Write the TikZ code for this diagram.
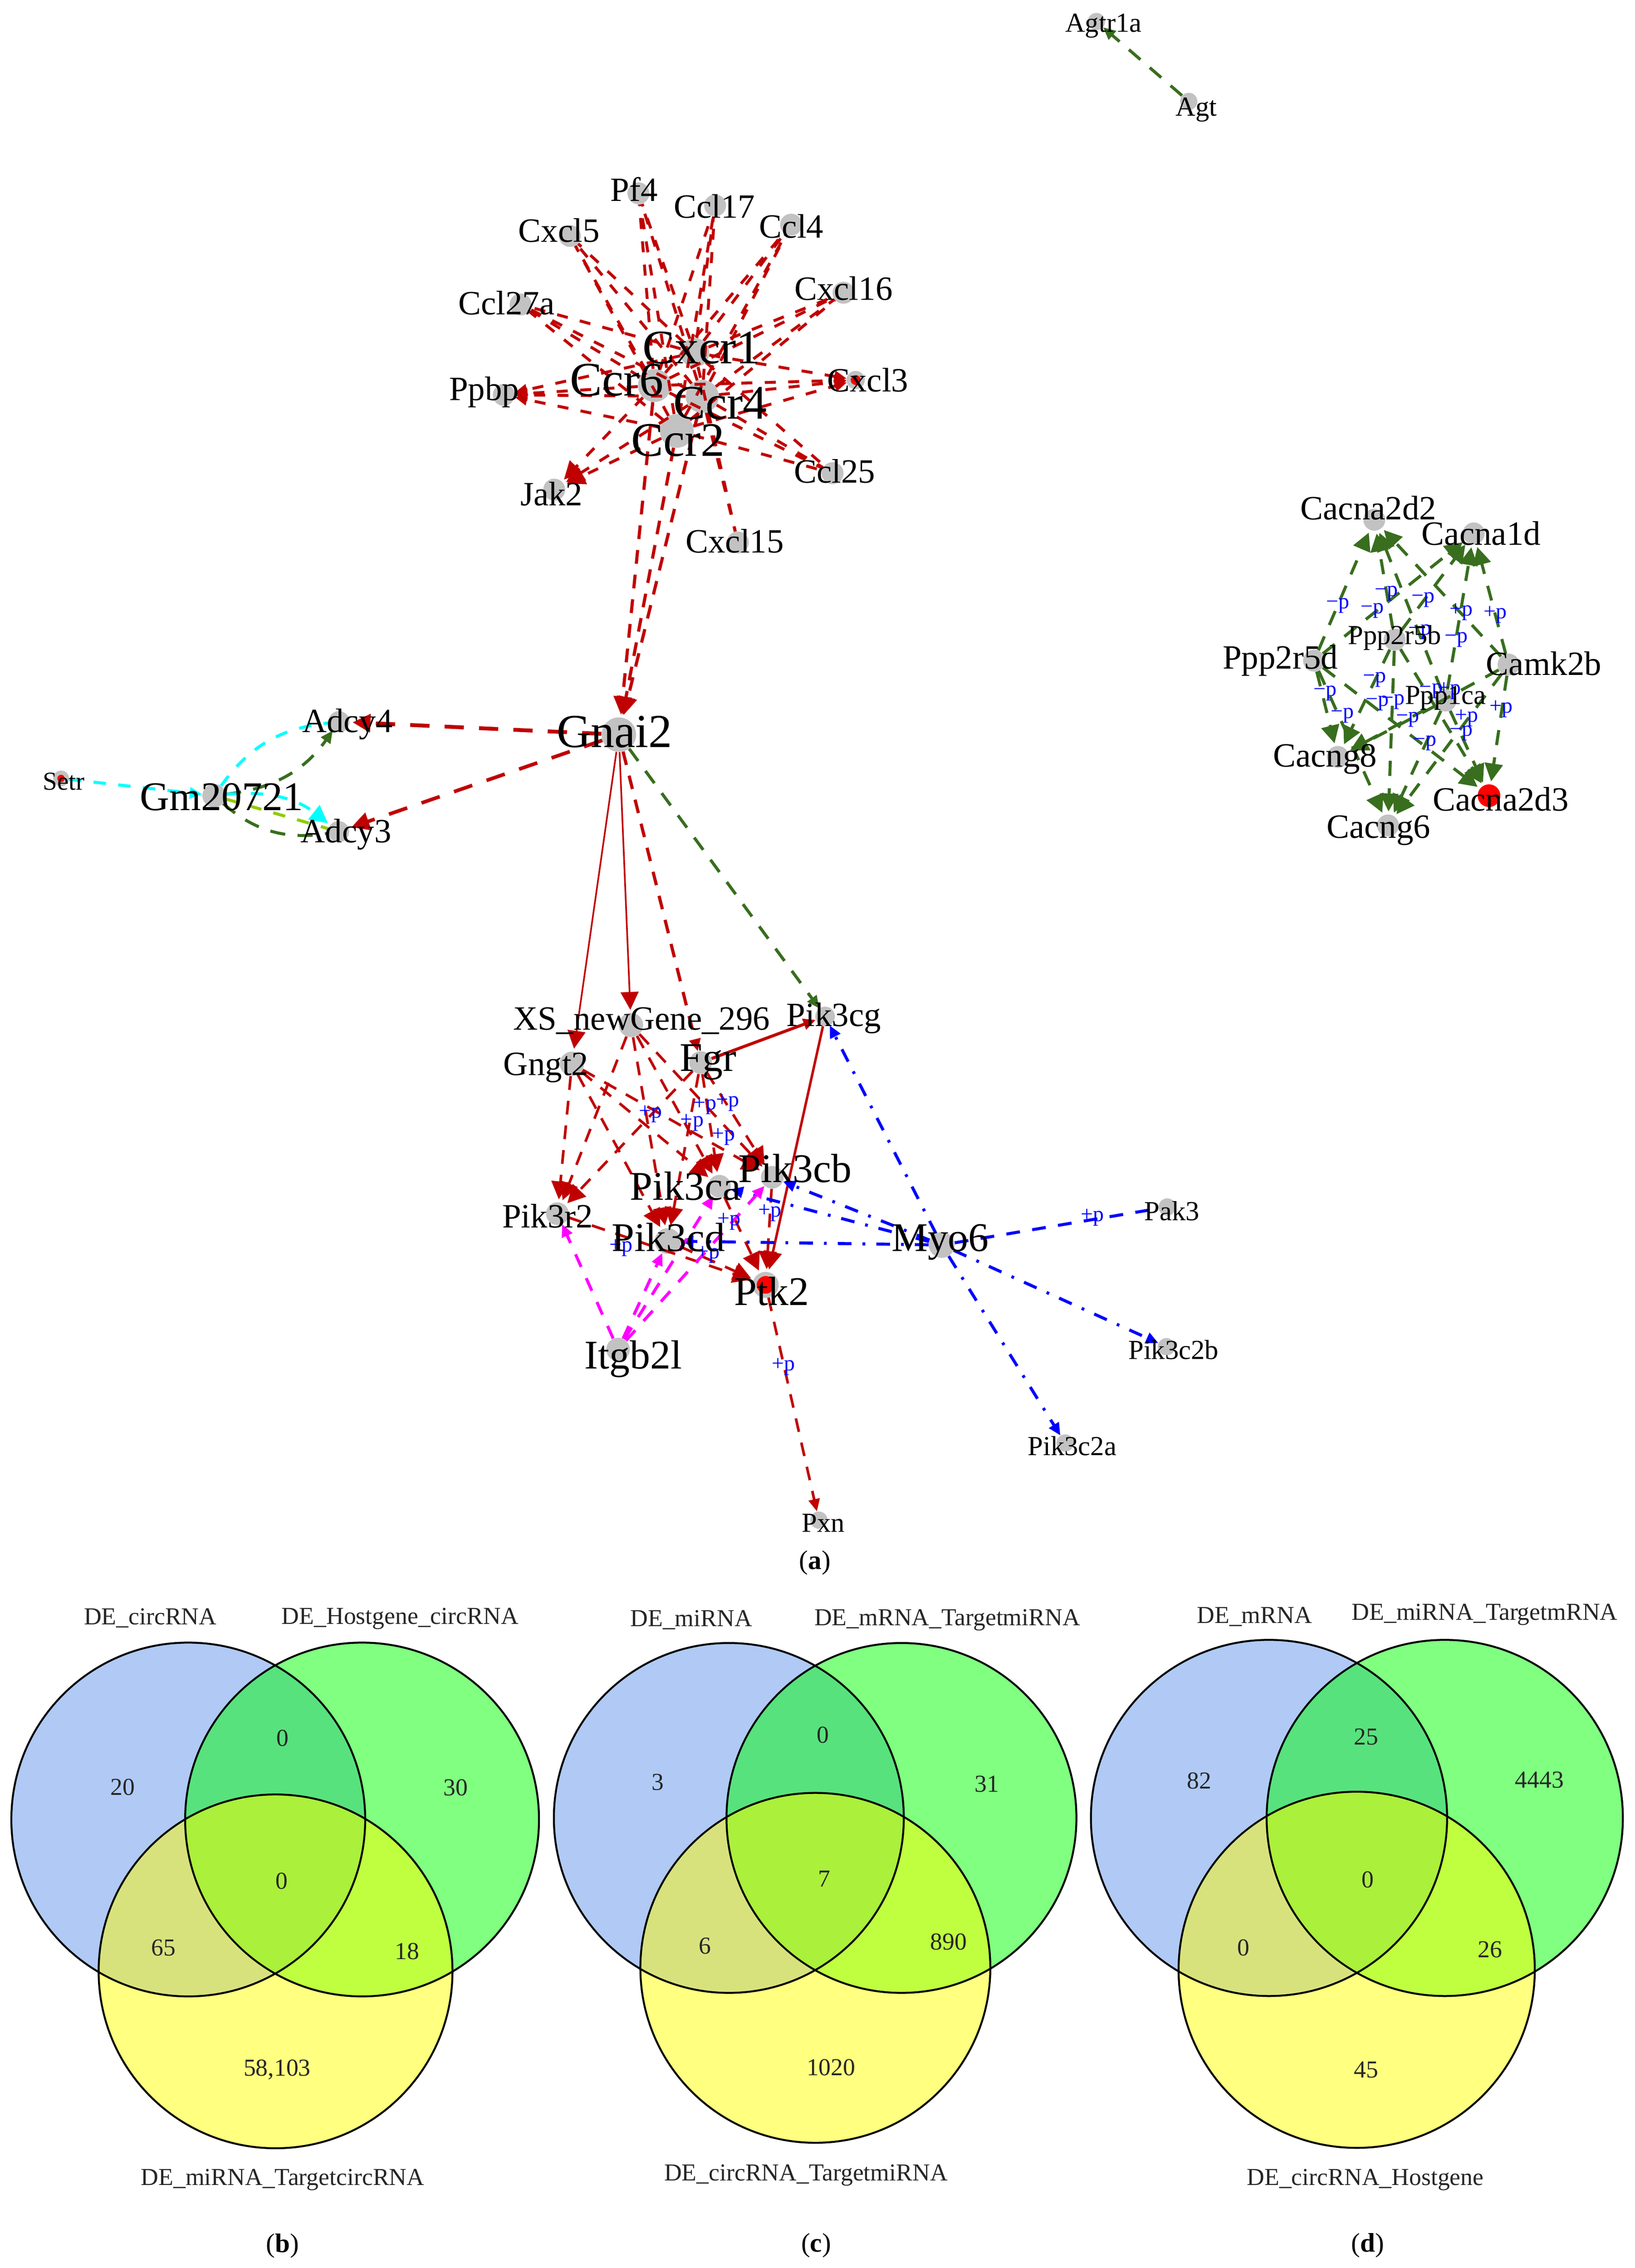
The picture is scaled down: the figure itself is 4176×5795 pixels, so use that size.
\documentclass[tikz,border=0pt]{standalone}
\usepackage{fontspec}
\setmainfont{Liberation Serif}
\usetikzlibrary{arrows.meta}

\definecolor{edgered}{HTML}{C00000}
\definecolor{edgegreen}{HTML}{386E1E}
\definecolor{edgelime}{HTML}{8FCC00}
\definecolor{edgecyan}{HTML}{00FFFF}
\definecolor{edgepink}{HTML}{FF00FF}
\definecolor{edgeblue}{HTML}{0000FF}
\definecolor{hitred}{HTML}{FF0000}
\definecolor{genegray}{HTML}{C2C2C2}
\definecolor{vblue}{HTML}{B0CAF5}
\definecolor{vgreen}{HTML}{80FF80}
\definecolor{vyellow}{HTML}{FFFF80}
\definecolor{vab}{HTML}{58E27D}
\definecolor{vac}{HTML}{D8E27D}
\definecolor{vbc}{HTML}{BFFF40}
\definecolor{vabc}{HTML}{ABF03A}

\tikzset{
  gene/.style={circle,fill=genegray,inner sep=0pt,minimum size=#1cm},
  hitgene/.style={circle,fill=hitred,draw=genegray,line width=3pt,inner sep=0pt,minimum size=#1cm},
  lab/.style={inner sep=0pt,font=\fontsize{#1}{#1}\selectfont},
  labs/.style={lab=20},
  labm/.style={lab=24.7},
  labb/.style={lab=29.6},
  labh/.style={lab=35},
  plab/.style={inner sep=0pt,text=edgeblue,font=\fontsize{15.8}{16}\selectfont},
  vtxt/.style={inner sep=0pt,text=black!85,font=\fontsize{17.7}{18}\selectfont},
  panelcap/.style={inner sep=0pt,font=\fontsize{19.5}{20}\selectfont},
  bigtip/.style={-{Triangle[length=13pt,width=13pt]},shorten >=2pt},
  smalltip/.style={-{Triangle[length=9pt,width=8pt]}},
  reddash/.style={draw=edgered,line width=2.3pt,dash pattern=on 10pt off 8pt},
  ligdash/.style={draw=edgered,line width=2.1pt,dash pattern=on 8pt off 9pt},
  redline/.style={draw=edgered,line width=1.2pt},
  greendash/.style={draw=edgegreen,line width=2.2pt,dash pattern=on 11pt off 9pt},
  bluedot/.style={draw=edgeblue,line width=2.2pt,dash pattern=on 10pt off 8pt on 2pt off 8pt},
  bluedash/.style={draw=edgeblue,line width=2.2pt,dash pattern=on 10pt off 9pt},
  pinkdash/.style={draw=edgepink,line width=2.2pt,dash pattern=on 10pt off 9pt},
  cyandash/.style={draw=edgecyan,line width=2.2pt,dash pattern=on 9pt off 9pt},
}

\begin{document}
\begin{tikzpicture}[x=0.01cm,y=-0.01cm]
\useasboundingbox (0,0) rectangle (4176,5795);

% venn circles
\foreach \ax/\bx/\ay/\cx/\cy/\r in {481/925/4649/704/5037/452,1862/2303/4645/2083/5028/447,3242/3691/4645/3466/5033/455}{
  \fill[vblue] (\ax,\ay) circle (\r);
  \fill[vgreen] (\bx,\ay) circle (\r);
  \fill[vyellow] (\cx,\cy) circle (\r);
  \begin{scope}
    \clip (\bx,\ay) circle (\r);
    \fill[vbc] (\cx,\cy) circle (\r);
  \end{scope}
  \begin{scope}
    \clip (\ax,\ay) circle (\r);
    \fill[vab] (\bx,\ay) circle (\r);
    \fill[vac] (\cx,\cy) circle (\r);
    \clip (\bx,\ay) circle (\r);
    \fill[vabc] (\cx,\cy) circle (\r);
  \end{scope}
  \draw[line width=1.4pt] (\ax,\ay) circle (\r) (\bx,\ay) circle (\r) (\cx,\cy) circle (\r);
}

% genes
\node[gene=.44] (agtr) at (2801,55) {};
\node[gene=.44] (agt) at (3037,259) {};
\node[gene=.56] (pf4) at (1631,494) {};
\node[gene=.56] (ccl17) at (1827,525) {};
\node[gene=.56] (ccl4) at (2021,574) {};
\node[gene=.56] (cxcl5) at (1456,603) {};
\node[gene=.56] (cxcl16) at (2155,748) {};
\node[gene=.56] (ccl27) at (1330,778) {};
\node[gene=.56] (ppbp) at (1287,1009) {};
\node[hitgene=.36] (cxcl3) at (2186,971) {};
\node[gene=.56] (ccl25) at (2127,1209) {};
\node[gene=.56] (jak2) at (1416,1251) {};
\node[gene=.56] (cxcl15) at (1885,1386) {};
\node[gene=.74] (cxcr1) at (1775,901) {};
\node[gene=.84] (ccr6) at (1672,985) {};
\node[gene=.84] (ccr4) at (1794,1013) {};
\node[gene=.86] (ccr2) at (1729,1101) {};
\node[gene=.88] (gnai2) at (1581,1877) {};
\node[hitgene=.3] (setr) at (156,1989) {};
\node[gene=.6] (gm) at (547,2033) {};
\node[gene=.54] (adcy4) at (866,1844) {};
\node[gene=.54] (adcy3) at (865,2125) {};
\node[gene=.62] (xsgene) at (1612,2619) {};
\node[gene=.5] (pik3cg) at (2108,2597) {};
\node[gene=.62] (gngt2) at (1461,2718) {};
\node[gene=.58] (fgr) at (1790,2715) {};
\node[gene=.58] (pik3cb) at (1973,3008) {};
\node[gene=.58] (pik3ca) at (1838,3031) {};
\node[gene=.58] (pik3r2) at (1424,3101) {};
\node[gene=.66] (pik3cd) at (1706,3171) {};
\node[gene=.66] (myo6) at (2406,3181) {};
\node[hitgene=.56] (ptk2) at (1956,3283) {};
\node[gene=.6] (itgb) at (1579,3448) {};
\node[gene=.44] (pak3) at (2982,3084) {};
\node[gene=.44] (c2b) at (2980,3441) {};
\node[gene=.44] (c2a) at (2721,3687) {};
\node[gene=.44] (pxn) at (2092,3884) {};
\node[gene=.56] (a2d2) at (3511,1328) {};
\node[gene=.56] (a1d) at (3765,1363) {};
\node[gene=.56] (r5b) at (3563,1634) {};
\node[gene=.56] (r5d) at (3357,1688) {};
\node[gene=.56] (camk) at (3854,1698) {};
\node[gene=.56] (pp1) at (3693,1790) {};
\node[gene=.56] (ng8) at (3418,1934) {};
\node[gene=.56] (ng6) at (3546,2109) {};
\node[circle,fill=hitred,inner sep=0pt,minimum size=.58cm] (a2d3) at (3804,2033) {};

% edges
\draw[greendash,smalltip] (agt) -- (agtr);
\foreach \lig in {pf4,ccl17,ccl4,cxcl5,cxcl16,ccl27,ccl25}
  \foreach \rec in {cxcr1,ccr6,ccr4,ccr2}
    \draw[ligdash] (\rec) -- (\lig);
\foreach \lig in {ppbp,cxcl3}
  \foreach \rec in {cxcr1,ccr6,ccr4,ccr2}
    \draw[ligdash,smalltip] (\rec) -- (\lig);
\foreach \rec in {ccr6,ccr4,ccr2}
  \draw[ligdash,bigtip] (\rec) -- (jak2);
\foreach \rec in {cxcr1,ccr4}
  \draw[ligdash] (\rec) -- (cxcl15);
\foreach \rec in {ccr6,ccr4,ccr2}
  \draw[reddash,bigtip] (\rec) -- (gnai2);
\draw[reddash,bigtip,line width=2.8pt,dash pattern=on 14pt off 11pt] (gnai2) -- (adcy4);
\draw[reddash,bigtip,line width=2.6pt,dash pattern=on 14pt off 11pt] (gnai2) -- (adcy3);
\draw[redline,bigtip] (gnai2) -- (gngt2);
\draw[redline,bigtip] (gnai2) -- (xsgene);
\draw[reddash,smalltip] (gnai2) -- (fgr);
\draw[greendash,smalltip] (gnai2) -- (pik3cg);
\draw[cyandash,smalltip] (setr) -- (gm);
\draw[cyandash] (gm) to[bend left=24] (adcy4);
\draw[greendash,smalltip] (gm) to[bend right=24] (adcy4);
\draw[cyandash,bigtip] (gm) to[bend left=22] (adcy3);
\draw[greendash] (gm) to[bend right=25] (adcy3);
\draw[draw=edgelime,line width=2.2pt,dash pattern=on 9pt off 9pt] (gm) -- (adcy3);
\draw[redline,line width=2.2pt,smalltip] (fgr) -- (pik3cg);
\draw[redline,line width=1.8pt,bigtip] (pik3cg) -- (ptk2);
\foreach \src in {xsgene,gngt2,fgr}
  \foreach \dst in {pik3r2,pik3ca,pik3cd,pik3cb}
    \draw[reddash,line width=1.9pt,bigtip] (\src) -- (\dst);
\foreach \src in {pik3r2,pik3ca,pik3cd,pik3cb}
  \draw[reddash,line width=1.9pt,bigtip] (\src) -- (ptk2);
\draw[reddash,line width=1.9pt,smalltip] (ptk2) -- (pxn);
\foreach \dst in {pik3cg,pik3cb,pik3ca,pik3cd,c2b,c2a}
  \draw[bluedot,smalltip] (myo6) -- (\dst);
\draw[bluedash] (myo6) -- (pak3);
\foreach \dst in {pik3r2,pik3cd,pik3ca,pik3cb}
  \draw[pinkdash,smalltip] (itgb) -- (\dst);
\foreach \src in {r5d,r5b,pp1,camk}
  \foreach \dst in {a2d2,a1d,ng8,ng6,a2d3}
    \draw[greendash,bigtip] (\src) -- (\dst);

% phospho labels
\foreach \x/\y [count=\i] in {1662/2846,1801/2826,1859/2817,1768/2868,1849/2904,1967/3099,1863/3121,1587/3189,1809/3206,2791/3111,2002/3492,3733/1564,3820/1570,3703/1765,3747/1835,3835/1812}
  \node[plab] (plus\i) at (\x,\y) {+p};
\foreach \x/\y [count=\i] in {3418/1548,3542/1516,3506/1560,3636/1532,3720/1634,3628/1615,3512/1736,3385/1771,3429/1828,3519/1797,3559/1793,3596/1838,3656/1765,3733/1873,3640/1899}
  \node[plab] (minus\i) at (\x,\y) {−p};

% gene labels
\node[labs] (tagtr) at (2819,66) {Agtr1a};
\node[labs] (tagt) at (3056,280) {Agt};
\node[labm] (tpf4) at (1620,483) {Pf4};
\node[labm] (tccl17) at (1825,527) {Ccl17};
\node[labm] (tccl4) at (2022,578) {Ccl4};
\node[labm] (tcxcl5) at (1428,589) {Cxcl5};
\node[labm] (tcxcl16) at (2155,737) {Cxcl16};
\node[labm] (tccl27) at (1294,774) {Ccl27a};
\node[labm] (tppbp) at (1237,1002) {Ppbp};
\node[labm] (tcxcl3) at (2217,971) {Cxcl3};
\node[labm] (tccl25) at (2132,1204) {Ccl25};
\node[labm] (tjak2) at (1409,1262) {Jak2};
\node[labm] (tcxcl15) at (1877,1383) {Cxcl15};
\node[labh] (tcxcr1) at (1792,889) {Cxcr1};
\node[labh] (tccr6) at (1576,971) {Ccr6};
\node[labh] (tccr4) at (1840,1030) {Ccr4};
\node[labh] (tccr2) at (1732,1125) {Ccr2};
\node[lab=34.4] (tgnai2) at (1570,1870) {Gnai2};
\node[lab=18.8] (tsetr) at (163,1997) {Setr};
\node[labb] (tgm) at (566,2036) {Gm20721};
\node[labm] (tadcy4) at (888,1850) {Adcy4};
\node[labm] (tadcy3) at (884,2132) {Adcy3};
\node[labm] (txsgene) at (1639,2608) {XS\_newGene\_296};
\node[labm] (tpik3cg) at (2130,2601) {Pik3cg};
\node[labm] (tgngt2) at (1395,2728) {Gngt2};
\node[labb] (tfgr) at (1809,2714) {Fgr};
\node[labb] (tpik3cb) at (2031,2985) {Pik3cb};
\node[labb] (tpik3ca) at (1751,3030) {Pik3ca};
\node[labm] (tpik3r2) at (1399,3107) {Pik3r2};
\node[labb] (tpik3cd) at (1708,3162) {Pik3cd};
\node[labb] (tmyo6) at (2402,3174) {Myo6};
\node[labb] (tptk2) at (1971,3299) {Ptk2};
\node[labb] (titgb) at (1618,3472) {Itgb2l};
\node[labs] (tpak3) at (2994,3094) {Pak3};
\node[labs] (tc2b) at (2998,3449) {Pik3c2b};
\node[labs] (tc2a) at (2739,3695) {Pik3c2a};
\node[labs] (tpxn) at (2103,3891) {Pxn};
\node[labm] (ta2d2) at (3496,1298) {Cacna2d2};
\node[labm] (ta1d) at (3784,1363) {Cacna1d};
\node[labs] (tr5b) at (3563,1629) {Ppp2r5b};
\node[labm] (tr5d) at (3271,1688) {Ppp2r5d};
\node[labm] (tcamk) at (3944,1696) {Camk2b};
\node[labs] (tpp1) at (3693,1784) {Ppp1ca};
\node[labm] (tng8) at (3385,1940) {Cacng8};
\node[labm] (tng6) at (3522,2122) {Cacng6};
\node[labm] (ta2d3) at (3834,2042) {Cacna2d3};

% venn texts
\foreach \x/\y/\t [count=\i] in {384/4134/DE\_circRNA,1022/4136/DE\_Hostgene\_circRNA,722/5569/DE\_miRNA\_TargetcircRNA,
  313/4566/20,722/4441/0,1164/4568/30,720/4806/0,418/4977/65,1040/4986/18,708/5288/{58,103},
  1766/4139/DE\_miRNA,2420/4139/DE\_mRNA\_TargetmiRNA,2059/5558/DE\_circRNA\_TargetmiRNA,
  1681/4554/3,2102/4433/0,2521/4558/31,2106/4800/7,1801/4972/6,2423/4962/890,2123/5282/1020,
  3205/4131/DE\_mRNA,3793/4125/DE\_miRNA\_TargetmRNA,3488/5569/DE\_circRNA\_Hostgene,
  3064/4550/82,3490/4438/25,3933/4548/4443,3494/4803/0,3177/4977/0,3807/4981/26,3490/5288/45}
  \node[vtxt] (vt\i) at (\x,\y) {\t};

\node[panelcap] (capa) at (2082,3993) {(\textbf{a})};
\node[panelcap] (capb) at (722,5739) {(\textbf{b})};
\node[panelcap] (capc) at (2085,5737) {(\textbf{c})};
\node[panelcap] (capd) at (3494,5737) {(\textbf{d})};
\end{tikzpicture}
\end{document}
